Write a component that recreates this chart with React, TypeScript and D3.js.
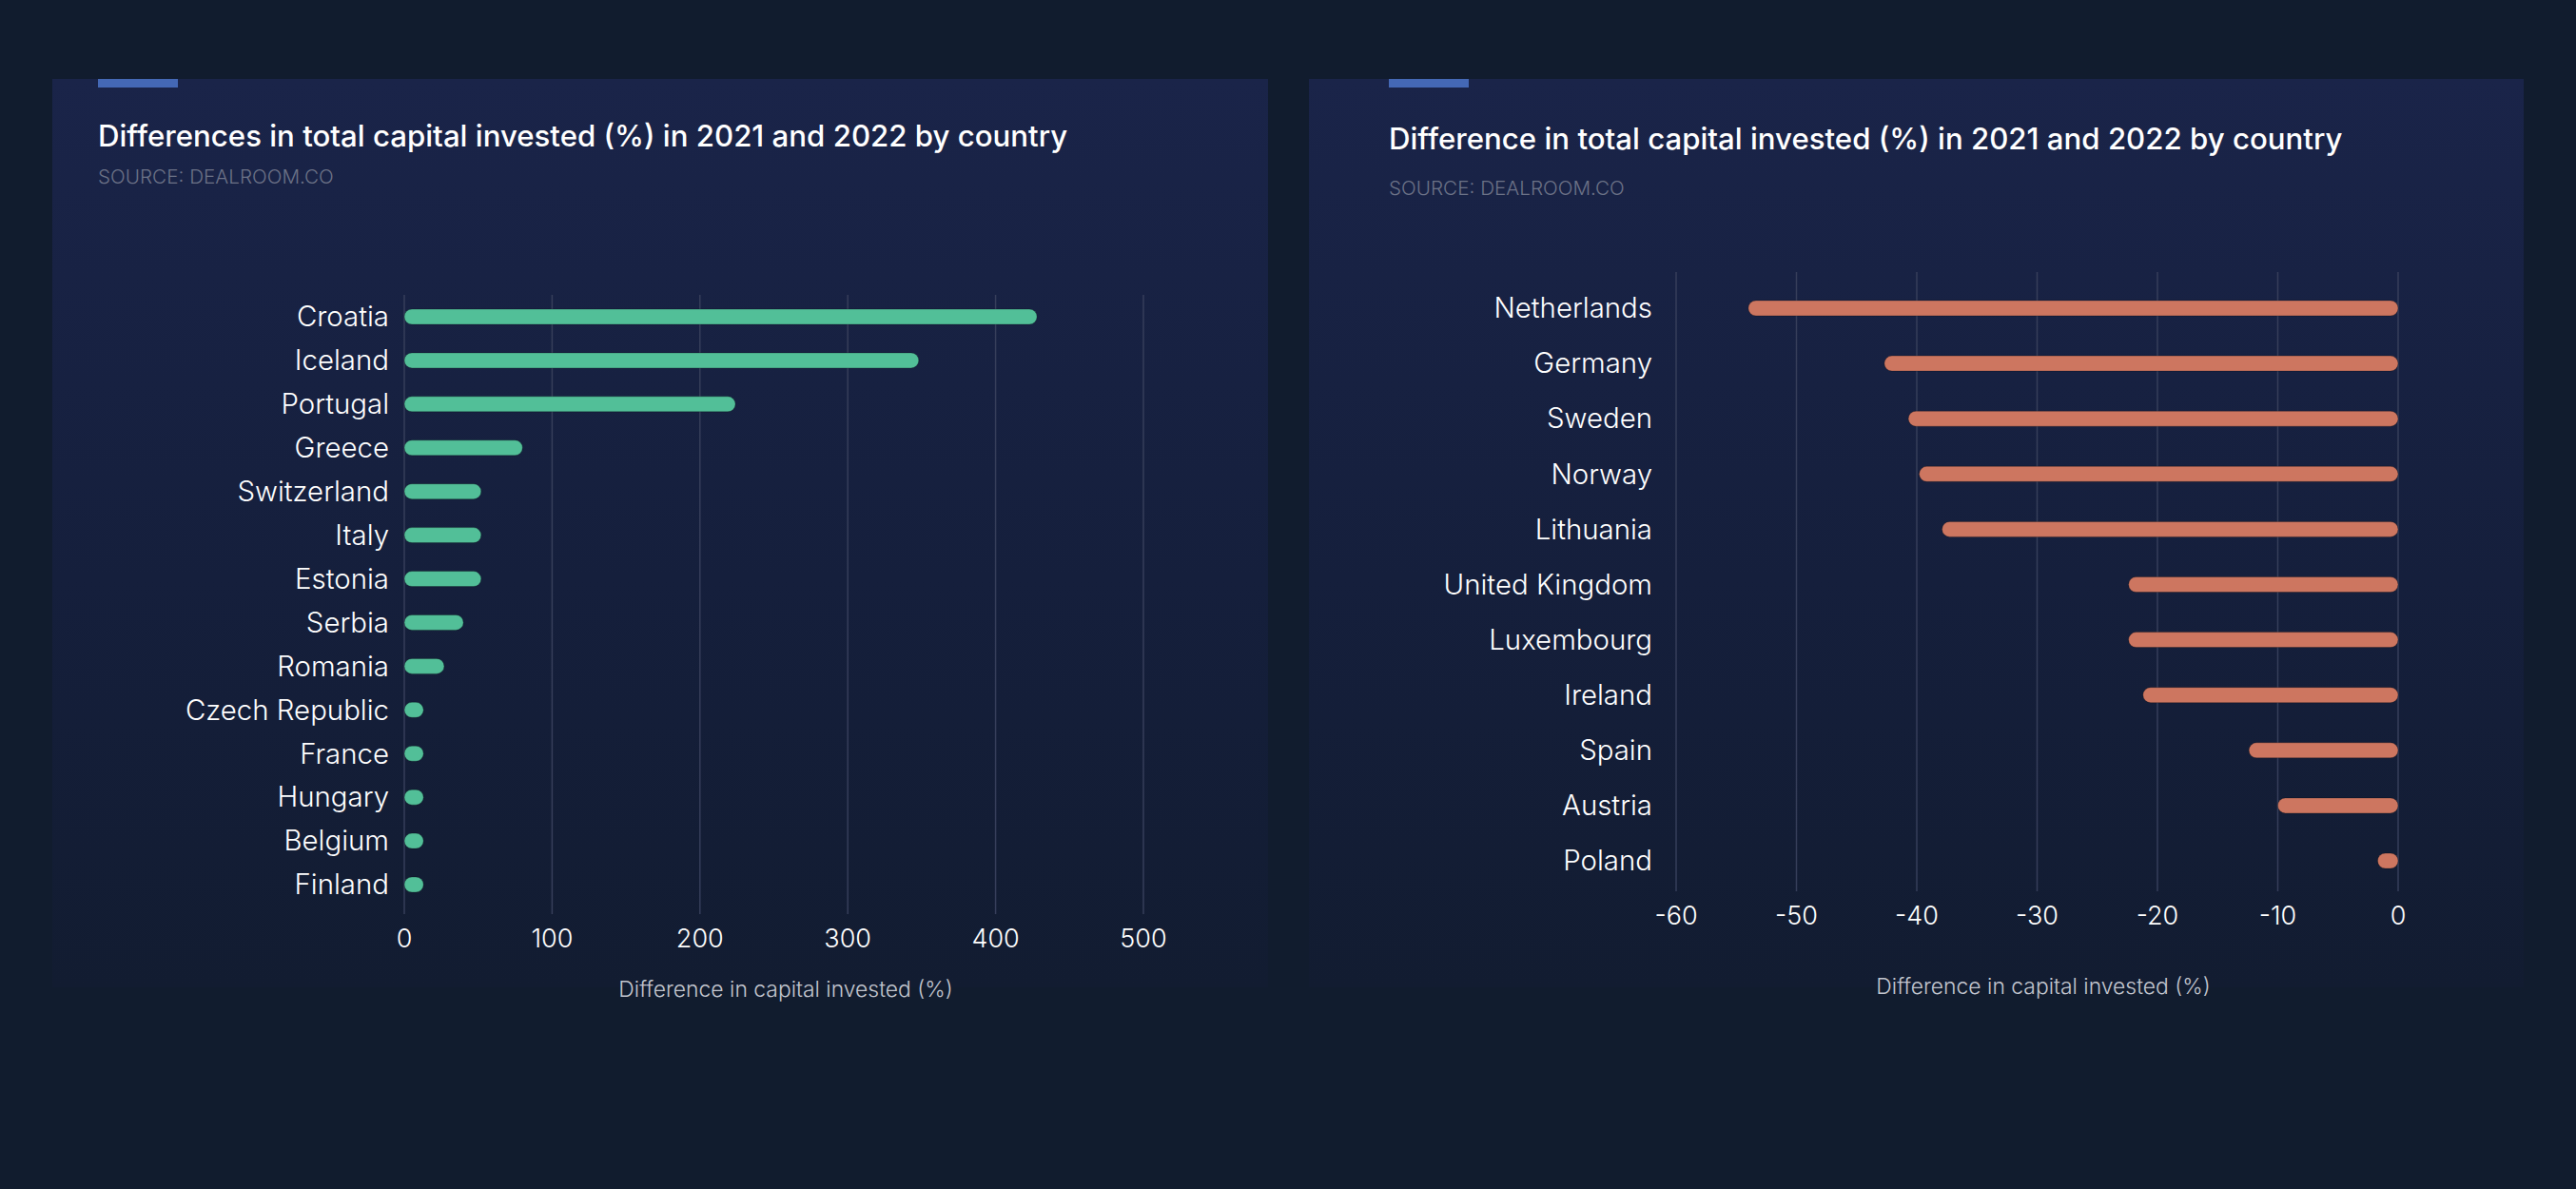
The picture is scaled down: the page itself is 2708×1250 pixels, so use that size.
import * as d3 from 'd3';
import React, { useEffect } from 'react';

// left chart: growth
const upCountries = ["Croatia", "Iceland", "Portugal", "Greece", "Switzerland", "Italy", "Estonia",
  "Serbia", "Romania", "Czech Republic", "France", "Hungary", "Belgium", "Finland"];
const upValues = [428, 348, 224, 80, 52, 52, 52, 40, 27, 13, 13, 13, 13, 13];
const upTicks = [0, 100, 200, 300, 400, 500];

// right chart: decline
const downCountries = ["Netherlands", "Germany", "Sweden", "Norway", "Lithuania", "United Kingdom",
  "Luxembourg", "Ireland", "Spain", "Austria", "Poland"];
const downValues = [-54, -42.7, -40.7, -39.8, -37.9, -22.4, -22.4, -21.2, -12.4, -10, -1.7];
const downTicks = [-60, -50, -40, -30, -20, -10, 0];

const leftTitle = "Differences in total capital invested (%) in 2021 and 2022 by country";
const rightTitle = "Difference in total capital invested (%) in 2021 and 2022 by country";
const source = "SOURCE: DEALROOM.CO";
const axisTitle = "Difference in capital invested (%)";

const FONT = "Inter, 'Open Sans', sans-serif";
const GRID = "#363e5a";

function Panel(props: any): any {
  const { x, width, titleX, titleY, subY, title } = props;
  return (
    <g>
      <rect x={x} y={83} width={width} height={955} fill="url(#panelGrad)" />
      <rect x={titleX} y={83} width={84} height={9} fill="#4468b5" />
      <text x={titleX} y={titleY} fill="#ffffff" fontFamily={FONT} fontWeight={500} fontSize={31.2}>
        {title}
      </text>
      <text x={titleX} y={subY} fill="#6c7287" fontFamily={FONT} fontWeight={300} fontSize={20.7}>
        {source}
      </text>
    </g>
  );
}

function BarChart(props: any): any {
  const { cats, vals, ticks, xDomain, xRange, yRange, gridTop, gridBottom,
    labelX, tickY, titleY, titleCx, color } = props;
  const x = d3.scaleLinear().domain(xDomain).range(xRange);
  const y = d3.scalePoint().domain(cats).range(yRange);
  const h = 16;
  return (
    <g>
      {ticks.map((t: number) => (
        <line key={"g" + t} x1={x(t)} x2={x(t)} y1={gridTop} y2={gridBottom} stroke={GRID} strokeWidth={1.5} />
      ))}
      {cats.map((c: string, i: number) => {
        const v = vals[i];
        const x0 = Math.min(x(0), x(v));
        const w = Math.abs(x(v) - x(0));
        return (
          <g key={c}>
            <text x={labelX} y={(y(c) || 0)} dy="0.35em" textAnchor="end" fill="#ffffff"
              fontFamily={FONT} fontWeight={300} fontSize={29.4}>{c}</text>
            <rect x={x0} y={(y(c) || 0) - h / 2} width={Math.max(w, h)} height={h} rx={h / 2}
              fill={color} stroke="rgba(0,0,0,0.25)" strokeWidth={1} />
          </g>
        );
      })}
      {ticks.map((t: number) => (
        <text key={"t" + t} x={x(t)} y={tickY} dy="0.35em" textAnchor="middle" fill="#ffffff"
          fontFamily={FONT} fontWeight={300} fontSize={27}>{t}</text>
      ))}
      <text x={titleCx} y={titleY} dy="0.35em" textAnchor="middle" fill="#c3c6cf"
        fontFamily={FONT} fontWeight={300} fontSize={22.9}>{axisTitle}</text>
    </g>
  );
}

export default function App(): any {
  useEffect(() => {
    document.body.style.margin = "0";
    document.body.style.background = "#111c2e";
  }, []);
  return (
    <svg width={2708} height={1250} style={{ display: "block" }}>
      <defs>
        <linearGradient id="panelGrad" x1="0" y1="0" x2="0" y2="1">
          <stop offset="0" stopColor="#1a2449" />
          <stop offset="0.55" stopColor="#151f3c" />
          <stop offset="1" stopColor="#121c31" />
        </linearGradient>
      </defs>
      <rect x={0} y={0} width={2708} height={1250} fill="#111c2e" />
      <Panel x={55} width={1278} titleX={103} titleY={154} subY={193} title={leftTitle} />
      <Panel x={1376} width={1277} titleX={1460} titleY={157} subY={205} title={rightTitle} />
      <BarChart cats={upCountries} vals={upValues} ticks={upTicks}
        xDomain={[0, 100]} xRange={[425, 580.4]} yRange={[333, 930]}
        gridTop={310} gridBottom={961} labelX={409} tickY={987} titleY={1040} titleCx={826}
        color="#52bf98" />
      <BarChart cats={downCountries} vals={downValues} ticks={downTicks}
        xDomain={[-60, 0]} xRange={[1762, 2521]} yRange={[324, 905]}
        gridTop={286} gridBottom={937} labelX={1737} tickY={963} titleY={1037} titleCx={2148}
        color="#cd7660" />
    </svg>
  );
}
